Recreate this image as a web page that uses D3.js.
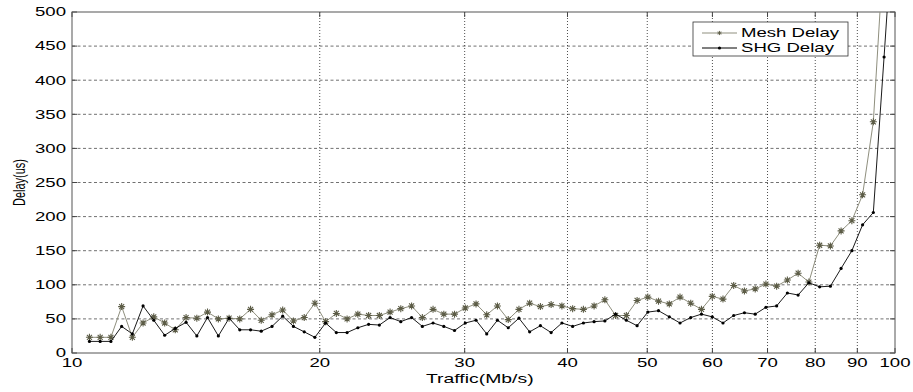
<!DOCTYPE html>
<html>
<head>
<meta charset="utf-8">
<script src="https://cdn.jsdelivr.net/npm/d3@7"></script>
<style>
  body{margin:0;background:#fff;}
  svg{display:block;font-family:"Liberation Sans",Arial,sans-serif;}
</style>
</head>
<body>
<svg id="svg" width="913" height="392"></svg>
<script>
// traffic (Mb/s) of every sample
var traffic=[10.50,10.82,11.15,11.49,11.84,12.20,12.57,12.96,13.35,13.76,
             14.18,14.61,15.06,15.52,15.99,16.48,16.98,17.50,18.03,18.58,
             19.15,19.73,20.33,20.95,21.59,22.25,22.93,23.63,24.35,25.09,
             25.86,26.65,27.46,28.30,29.16,30.05,30.97,31.91,32.88,33.89,
             34.92,35.98,37.08,38.21,39.38,40.58,41.82,43.09,44.41,45.76,
             47.16,48.60,50.08,51.60,53.18,54.80,56.47,58.19,59.97,61.80,
             63.68,65.62,67.63,69.69,71.81,74.00,76.26,78.59,80.99,83.46,
             86.00,88.63,91.33,94.12,96.99,99.95];

var meshDelay=[23,23,23,68,23,44,53,44,34,52,
               51,60,50,51,50,64,48,56,63,47,
               52,73,46,58,50,57,55,55,60,65,
               69,52,64,57,57,66,72,56,69,49,
               64,73,68,71,69,65,64,69,78,55,
               55,77,82,76,72,82,73,64,83,79,
               99,91,94,101,98,107,117,104,158,157,
               179,194,232,339,600];

var shgDelay=[17,17,17,39,28,69,48,26,36,45,
              25,52,25,51,34,34,32,39,54,39,
              31,23,44,30,30,37,42,41,52,46,
              52,39,44,39,33,44,48,28,48,37,
              51,31,40,30,44,39,44,46,47,57,
              48,40,60,62,53,44,52,57,53,44,
              55,59,57,67,69,88,85,103,97,98,
              124,150,188,206,434,670];

var xTicks=[10,20,30,40,50,60,70,80,90,100];
var yTicks=[0,50,100,150,200,250,300,350,400,450,500];

var seriesNames=["Mesh Delay","SHG Delay"];
var meshLine="#8f8f7e", meshMark="#5c5c46", shgColor="#000";

var margin={top:12,right:18,bottom:39,left:72};
var width=913-margin.left-margin.right;
var height=392-margin.top-margin.bottom;
var sx=1.55; // text is drawn stretched sideways like the source image

var svg=d3.select("#svg").append("g")
        .attr("transform","translate("+margin.left+","+margin.top+")");

var x=d3.scaleLog().domain([10,100]).range([0,width]);
var y=d3.scaleLinear().domain([0,500]).range([height,0]);

function stretchedText(g,px,py,str,size,anchor){
    return g.append("text")
        .attr("transform","translate("+px+","+py+") scale("+sx+",1)")
        .attr("text-anchor",anchor)
        .style("font-size",size+"px")
        .style("fill","#000")
        .text(str);
}

// grid
svg.selectAll(".hgrid").data(yTicks.slice(1,-1)).enter().append("line")
    .attr("class","hgrid")
    .attr("x1",0).attr("x2",width)
    .attr("y1",d=>y(d)).attr("y2",d=>y(d))
    .style("stroke","#333").style("stroke-width","0.7")
    .style("stroke-dasharray","3,2.5");

svg.selectAll(".vgrid").data(xTicks.slice(1,-1)).enter().append("line")
    .attr("class","vgrid")
    .attr("x1",d=>x(d)).attr("x2",d=>x(d))
    .attr("y1",0).attr("y2",height)
    .style("stroke","#222").style("stroke-width","0.8")
    .style("stroke-dasharray","1,2");

// inward ticks on all four sides
var tl=5;
svg.selectAll(".xtb").data(xTicks).enter().append("line")
    .attr("x1",d=>x(d)).attr("x2",d=>x(d)).attr("y1",height).attr("y2",height-tl)
    .style("stroke","#444");
svg.selectAll(".xtt").data(xTicks).enter().append("line")
    .attr("x1",d=>x(d)).attr("x2",d=>x(d)).attr("y1",0).attr("y2",tl)
    .style("stroke","#444");
svg.selectAll(".ytl").data(yTicks).enter().append("line")
    .attr("x1",0).attr("x2",tl).attr("y1",d=>y(d)).attr("y2",d=>y(d))
    .style("stroke","#444");
svg.selectAll(".ytr").data(yTicks).enter().append("line")
    .attr("x1",width).attr("x2",width-tl).attr("y1",d=>y(d)).attr("y2",d=>y(d))
    .style("stroke","#444");

// box
svg.append("rect")
    .attr("width",width).attr("height",height)
    .style("fill","none").style("stroke","#555").style("stroke-width","1");

// tick labels
xTicks.forEach(d=>stretchedText(svg,x(d),height+14,d,12,"middle"));
yTicks.forEach(d=>stretchedText(svg,-6,y(d)+4.3,d,12,"end"));

// axis titles
stretchedText(svg,width*0.4955,height+30,"Traffic(Mb/s)",12.5,"middle");
svg.append("text")
    .attr("transform","translate("+(-47)+","+(height/2)+") scale(1.5,1) rotate(-90)")
    .attr("text-anchor","middle")
    .style("font-size","11px")
    .text("Delay(us)");

// data
svg.append("clipPath").attr("id","plotclip")
    .append("rect").attr("width",width).attr("height",height);
var plot=svg.append("g").attr("clip-path","url(#plotclip)");

var mesh=meshDelay.map((v,i)=>({t:traffic[i],v:v}));
var shg=shgDelay.map((v,i)=>({t:traffic[i],v:v}));

var line=d3.line().x(d=>x(d.t)).y(d=>y(d.v));

plot.append("path").datum(mesh)
    .attr("d",line)
    .style("fill","none").style("stroke",meshLine).style("stroke-width","1");

var star="M-3.5,0H3.5M0,-3.5V3.5M-2.5,-2.5L2.5,2.5M-2.5,2.5L2.5,-2.5";
plot.selectAll(".star").data(mesh).enter().append("path")
    .attr("class","star")
    .attr("transform",d=>"translate("+x(d.t)+","+y(d.v)+")")
    .attr("d",star)
    .style("fill","none").style("stroke",meshMark).style("stroke-width","1.1");

plot.append("path").datum(shg)
    .attr("d",line)
    .style("fill","none").style("stroke",shgColor).style("stroke-width","0.9");

plot.selectAll(".dot").data(shg).enter().append("circle")
    .attr("class","dot")
    .attr("cx",d=>x(d.t)).attr("cy",d=>y(d.v))
    .attr("r",1.6)
    .style("fill",shgColor);

// legend
var lg=svg.append("g").attr("transform","translate("+(width-202)+",10)");
lg.append("rect")
    .attr("width",155).attr("height",34)
    .style("fill","#fff").style("stroke","#333").style("stroke-width","0.8");
seriesNames.forEach((name,i)=>{
    var ly=11+i*15;
    var col=i==0?meshLine:shgColor;
    lg.append("line")
        .attr("x1",9).attr("x2",44).attr("y1",ly).attr("y2",ly)
        .style("stroke",col).style("stroke-width","1");
    if(i==0){
        lg.append("path")
            .attr("transform","translate(26.5,"+ly+") scale(0.6)")
            .attr("d",star)
            .style("fill","none").style("stroke",meshMark).style("stroke-width","1.5");
    } else {
        lg.append("circle").attr("cx",26.5).attr("cy",ly).attr("r",1.6).style("fill",shgColor);
    }
    stretchedText(lg,48,ly+4.3,name,12,"start");
});
</script>
</body>
</html>
